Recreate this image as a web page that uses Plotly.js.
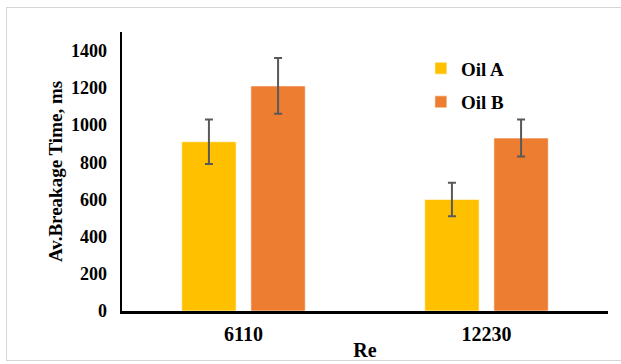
<!DOCTYPE html>
<html>
<head>
<meta charset="utf-8">
<script src="https://cdn.plot.ly/plotly-3.0.1.min.js"></script>
<style>
  html, body { margin: 0; padding: 0; background: #fff; }
  #wrap { position: relative; width: 621px; height: 364px; }
  #chart { width: 621px; height: 364px; }
  #frame { position: absolute; left: 6px; top: 7px; width: 620px; height: 354px;
           border: 1px solid #d6d6d6; pointer-events: none; box-sizing: border-box; }
</style>
</head>
<body>
<div id="wrap">
  <div id="chart"></div>
  <div id="frame"></div>
</div>
<script>
// Reynolds numbers tested
const categories = ['6110', '12230'];
// Average breakage time (ms) and error bar half-widths
const oilA = [910, 600];
const oilAErr = [120, 90];
const oilB = [1210, 930];
const oilBErr = [150, 100];
const yTicks = [0, 200, 400, 600, 800, 1000, 1200, 1400];

const serif = 'Liberation Serif';
const errStyle = { type: 'data', visible: true, color: '#595959', thickness: 2, width: 4 };

const traces = [
  {
    type: 'bar', name: 'Oil A', legendgroup: 'a', x: categories, y: oilA,
    marker: { color: '#FFC000', line: { color: 'rgba(255,255,255,0.6)', width: 1 } },
    error_y: Object.assign({ array: oilAErr }, errStyle)
  },
  {
    type: 'bar', name: 'Oil B', legendgroup: 'b', x: categories, y: oilB,
    marker: { color: '#ED7D31', line: { color: 'rgba(255,255,255,0.6)', width: 1 } },
    error_y: Object.assign({ array: oilBErr }, errStyle)
  }
];

const layout = {
  width: 621, height: 364,
  margin: { l: 122, r: 13, t: 32, b: 53 },
  paper_bgcolor: '#fff', plot_bgcolor: '#fff',
  barmode: 'group', bargap: 0.431, bargroupgap: 0.213,
  font: { family: serif, color: '#000' },
  showlegend: true,
  legend: {
    x: 0.615, y: 0.938, xanchor: 'left', yanchor: 'top',
    traceorder: 'grouped', tracegroupgap: 6,
    font: { family: serif, size: 19, color: '#000', weight: 'bold' },
    bgcolor: 'rgba(0,0,0,0)'
  },
  xaxis: {
    type: 'category', showgrid: false, zeroline: false,
    showline: true, linecolor: '#000', linewidth: 2.5,
    ticks: '', ticklabelstandoff: 3,
    tickfont: { family: serif, size: 20, color: '#000', weight: 'bold' },
    title: { text: 'Re', standoff: 0, font: { family: serif, size: 20, color: '#000', weight: 'bold' } },
    automargin: false
  },
  yaxis: {
    range: [0, 1500], tickvals: yTicks, showgrid: false, zeroline: false,
    showline: true, linecolor: '#000', linewidth: 2.5,
    ticks: '', ticklabelstandoff: 9,
    tickfont: { family: serif, size: 18, color: '#000', weight: 'bold' },
    title: { text: 'Av.Breakage Time, ms', standoff: 4, font: { family: serif, size: 19, color: '#000', weight: 'bold' } },
    automargin: false
  }
};

Plotly.newPlot('chart', traces, layout, { displayModeBar: false, staticPlot: true });
</script>
</body>
</html>
